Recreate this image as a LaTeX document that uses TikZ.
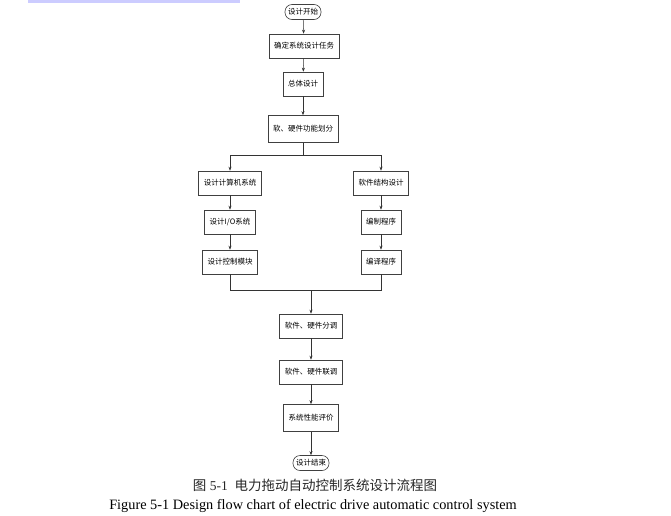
\documentclass[tikz,border=0pt]{standalone}
\usepackage{fontspec}
\setmainfont{Liberation Serif}
\newfontfamily\cjk{Noto Sans CJK SC}
\usetikzlibrary{arrows.meta}
\begin{document}
\begin{tikzpicture}[x=1pt,y=-1pt,
  box/.style={draw=black!75,line width=0.6pt,fill=white,minimum height=24pt,inner xsep=5pt,font=\cjk\fontsize{7.5}{8}\selectfont},
  term/.style={draw=black!75,line width=0.6pt,rounded corners=7pt,minimum height=15pt,inner xsep=3pt,inner ysep=1pt,font=\cjk\fontsize{7.5}{8}\selectfont},
  arr/.style={draw=black!80,line width=0.5pt,-{Stealth[length=4pt,width=3pt]}},
  ln/.style={draw=black!80,line width=0.5pt}]
\useasboundingbox (0,0) rectangle (671,515);
\fill[blue!20] (28,0) rectangle (240,3);
\node[term] (s) at (303,12) {设计开始};
\node[box] (a) at (304,46) {确定系统设计任务};
\node[box] (b) at (303,84) {总体设计};
\node[box,minimum height=27pt] (c) at (303,129) {软、硬件功能划分};
\node[box] (l1) at (230,183) {设计计算机系统};
\node[box] (r1) at (381,183) {软件结构设计};
\node[box] (l2) at (230,222) {设计I/O系统};
\node[box] (r2) at (381,222) {编制程序};
\node[box] (l3) at (230,262) {设计控制模块};
\node[box] (r3) at (381,262) {编译程序};
\node[box] (d) at (311,326) {软件、硬件分调};
\node[box] (e) at (311,372) {软件、硬件联调};
\node[box,minimum height=27pt] (f) at (311,418) {系统性能评价};
\node[term] (g) at (311,463) {设计结束};
\coordinate (sp) at (303,155);
\coordinate (mg) at (311,290);
\draw[arr] (s) -- (a);
\draw[arr] (a) -- (b);
\draw[arr] (b) -- (c);
\draw[ln] (c) -- (sp);
\draw[arr] (sp) -| (l1);
\draw[arr] (sp) -| (r1);
\draw[arr] (l1) -- (l2);
\draw[arr] (l2) -- (l3);
\draw[arr] (r1) -- (r2);
\draw[arr] (r2) -- (r3);
\draw[ln] (l3) |- (mg);
\draw[ln] (r3) |- (mg);
\draw[arr] (mg) -- (d);
\draw[arr] (d) -- (e);
\draw[arr] (e) -- (f);
\draw[arr] (f) -- (g);
\node[font=\fontsize{13.5}{15}\selectfont,text=black!85] (cap1) at (315,485) {{\cjk 图} 5-1\ \ {\cjk 电力拖动自动控制系统设计流程图}};
\node[font=\fontsize{14.3}{16}\selectfont] (cap2) at (313,506) {Figure 5-1 Design flow chart of electric drive automatic control system};
\end{tikzpicture}
\end{document}
